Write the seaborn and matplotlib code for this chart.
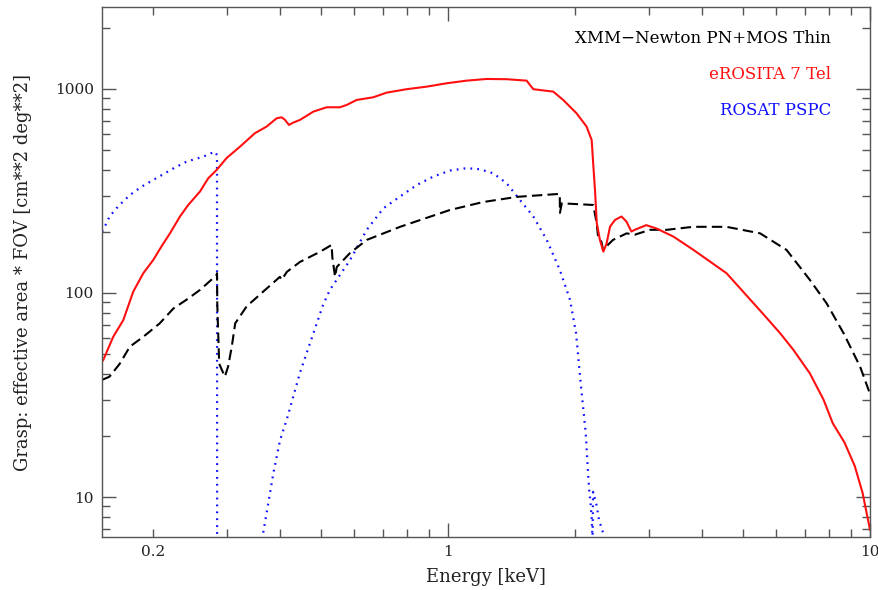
import numpy as np
import pandas as pd
import matplotlib
matplotlib.use("Agg")
import matplotlib.pyplot as plt
from matplotlib.ticker import LogLocator, FuncFormatter, NullFormatter
import seaborn as sns

# ---- data (energy keV, grasp cm^2 deg^2) ----
eros_e = [0.1514, 0.1525, 0.1610, 0.1701, 0.1796, 0.1897, 0.2002, 0.2098, 0.2194, 0.2317,
          0.2424, 0.2584, 0.2704, 0.2831, 0.2990, 0.3214, 0.3488, 0.3718, 0.3926, 0.4035,
          0.4110, 0.4200, 0.4299, 0.4460, 0.4796, 0.5158, 0.5547, 0.5757, 0.6075, 0.6652,
          0.7154, 0.7980, 0.8900, 0.9930, 1.107, 1.235, 1.377, 1.536, 1.564, 1.593,
          1.776, 1.875, 2.016, 2.130, 2.190, 2.210, 2.230, 2.252, 2.291, 2.334,
          2.376, 2.421, 2.487, 2.577, 2.647, 2.720, 2.770, 2.950, 3.120, 3.420,
          3.810, 4.570, 5.490, 6.120, 6.580, 7.200, 7.760, 8.160, 8.700, 9.200,
          9.600, 10.0]
eros_a = [46, 47, 61, 73.7, 101.6, 125, 145, 170, 196, 237,
          270, 314, 365, 401, 459, 521, 607, 654, 718, 726,
          705, 666, 684, 705, 774, 813, 813, 835, 883, 910,
          959, 997, 1026, 1066, 1098, 1119, 1116, 1098, 1046, 997,
          970, 883, 760, 654, 562, 420, 320, 220, 182, 159.4,
          175, 211.5, 228, 237, 224, 200, 204, 215, 207, 189,
          163, 125, 82, 63.6, 52.7, 40.4, 30, 23, 18.5, 14.2,
          10.5, 6.9]

xmm_e = [0.1514, 0.1578, 0.1668, 0.1763, 0.1897, 0.2075, 0.2236, 0.2400, 0.2584, 0.2831,
         0.2836, 0.2840, 0.2850, 0.2870, 0.2960, 0.3013, 0.3074, 0.3132, 0.3334, 0.3650,
         0.3997, 0.4035, 0.4153, 0.4460, 0.4970, 0.5300, 0.5320, 0.5400, 0.5450, 0.5860,
         0.6420, 0.7700, 1.010, 1.210, 1.460, 1.840, 1.842, 1.860, 2.210, 2.250,
         2.270, 2.310, 2.330, 2.460, 2.650, 2.770, 3.010, 3.300, 3.810, 4.570,
         5.490, 6.340, 7.200, 7.890, 8.660, 9.470, 10.0]
xmm_a = [37.5, 38.9, 45, 54.6, 61, 71, 84, 92.6, 103.5, 122.5,
         125, 89, 70, 45, 38.9, 43.6, 54.6, 71, 86, 101.6,
         120, 116, 127, 142, 159, 172, 150, 120, 134, 157,
         182, 211, 255, 279, 296, 306, 247, 275, 270, 220,
         186, 178, 163, 182, 196, 193, 204, 204, 211, 211,
         196, 162.6, 116, 89, 63.4, 43.6, 32]

rosat_e = [0.1514, 0.1525, 0.1578, 0.1657, 0.1763, 0.1880, 0.2002, 0.2236, 0.2400, 0.2633,
           0.2804, 0.2836, 0.2838, 0.3610, 0.3650, 0.3860, 0.4000, 0.4150, 0.4460, 0.4800,
           0.5060, 0.5250, 0.5860, 0.6420, 0.7030, 0.7700, 0.8430, 0.9230, 1.011, 1.107,
           1.190, 1.280, 1.377, 1.480, 1.593, 1.714, 1.840, 1.946, 2.011, 2.063,
           2.120, 2.148, 2.160, 2.177, 2.190, 2.197, 2.199, 2.207, 2.250, 2.280,
           2.335]
rosat_a = [200, 204, 237, 267, 302, 332, 358, 408, 440, 466,
           493, 474, 5.0, 5.0, 6.7, 13.2, 19, 24, 40.7, 63.6,
           87.6, 103.6, 145, 204, 260, 297, 338, 372, 398, 409,
           404, 386, 345, 286, 237, 182, 130, 92.6, 63.6, 36,
           20.6, 12.9, 10.9, 9.3, 7.9, 6.7, 5.5, 10.6, 9.1, 7.7,
           6.6]

labels = ["XMM\u2212Newton PN+MOS Thin", "eROSITA 7 Tel", "ROSAT PSPC"]

df_xmm = pd.DataFrame({"energy": xmm_e, "grasp": xmm_a})
df_eros = pd.DataFrame({"energy": eros_e, "grasp": eros_a})
df_rosat = pd.DataFrame({"energy": rosat_e, "grasp": rosat_a})

sns.set_style("ticks")
plt.rcParams["font.family"] = ["DejaVu Serif"]

fig = plt.figure(figsize=(8.79, 5.90), dpi=100)
ax = fig.add_axes([0.116, 0.0898, 0.8738, 0.8983])
ax.set_xscale("log")
ax.set_yscale("log")

sns.lineplot(data=df_rosat, x="energy", y="grasp", ax=ax, sort=False, estimator=None,
             color="#1010ff", lw=1.6, linestyle=(0, (0.8, 2.3)))
sns.lineplot(data=df_xmm, x="energy", y="grasp", ax=ax, sort=False, estimator=None,
             color="black", lw=1.5, linestyle=(0, (5, 2.5)))
sns.lineplot(data=df_eros, x="energy", y="grasp", ax=ax, sort=False, estimator=None,
             color="#ff1010", lw=1.5)

ax.set_xlim(0.1514, 10)
ax.set_ylim(6.37, 2520)

ax.xaxis.set_major_locator(LogLocator(base=10, subs=(1.0,)))
ax.xaxis.set_minor_locator(LogLocator(base=10, subs=np.arange(2, 10)))
ax.xaxis.set_major_formatter(FuncFormatter(lambda v, p: f"{v:g}"))
ax.xaxis.set_minor_formatter(FuncFormatter(lambda v, p: "0.2" if abs(v - 0.2) < 1e-9 else ""))
ax.yaxis.set_major_locator(LogLocator(base=10, subs=(1.0,)))
ax.yaxis.set_minor_locator(LogLocator(base=10, subs=np.arange(2, 10)))
ax.yaxis.set_major_formatter(FuncFormatter(lambda v, p: f"{v:g}"))
ax.yaxis.set_minor_formatter(NullFormatter())

frame = "#555555"
for s in ax.spines.values():
    s.set_color(frame)
    s.set_linewidth(1.0)
ax.tick_params(which="both", direction="in", top=True, right=True, color=frame,
               width=1.0, labelsize=11, labelcolor="#222222")
ax.tick_params(which="major", length=10, pad=6)
ax.tick_params(which="minor", length=6, pad=6)

ax.set_xlabel("Energy [keV]", fontsize=13, color="#222222", labelpad=6)
ax.set_ylabel("Grasp: effective area * FOV [cm**2 deg**2]", fontsize=13,
              color="#222222")
ax.yaxis.set_label_coords(-0.091, 0.5)

colors = ["black", "#ff1010", "#1010ff"]
ypos = [0.932, 0.864, 0.796]
for t, c, yy in zip(labels, colors, ypos):
    ax.text(0.949, yy, t, transform=ax.transAxes, ha="right", va="baseline",
            color=c, fontsize=12)

fig.savefig("out.png", dpi=100)
